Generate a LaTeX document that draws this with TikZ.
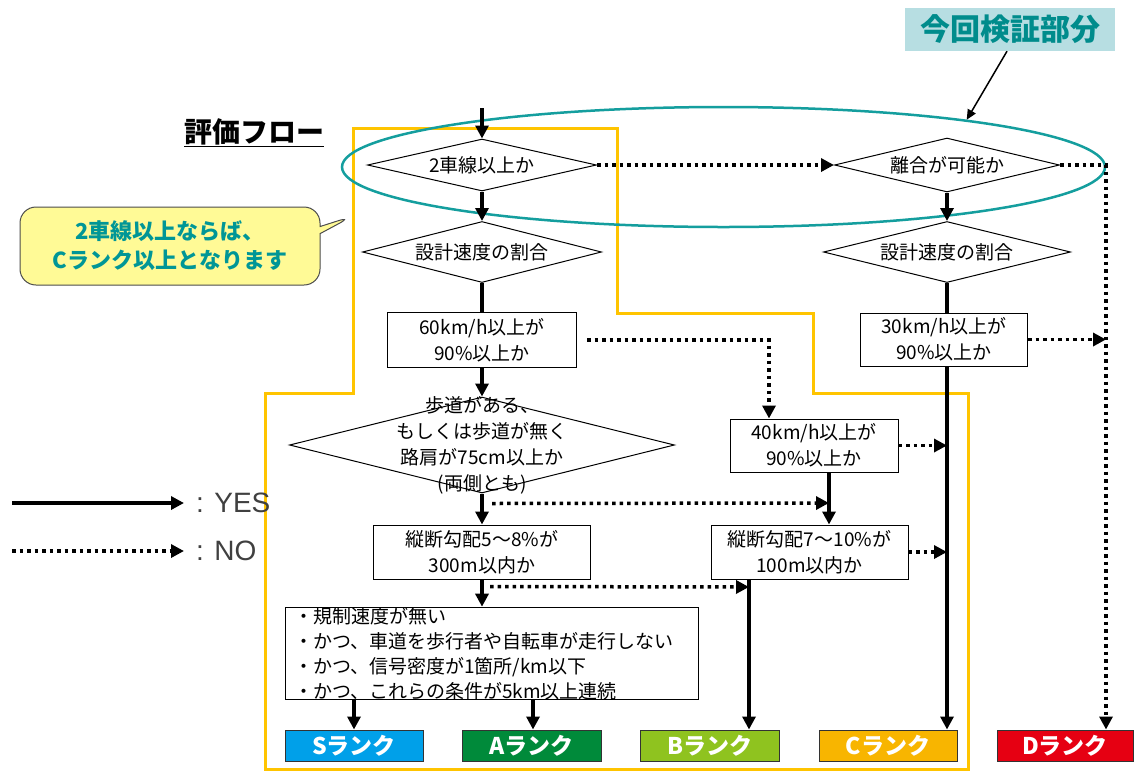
\documentclass[tikz,border=0pt]{standalone}
\usepackage{fontspec}
\setmainfont{Noto Sans CJK JP}
\newfontfamily\latinsans{Liberation Sans}
\usetikzlibrary{arrows.meta,shapes.geometric,shapes.callouts}
\definecolor{frameyellow}{RGB}{255,196,0}
\definecolor{scopeteal}{RGB}{20,158,158}
\definecolor{tagfill}{RGB}{183,222,226}
\definecolor{tagteal}{RGB}{0,140,140}
\definecolor{notefill}{RGB}{255,250,150}
\definecolor{noteteal}{RGB}{0,150,150}
\definecolor{rankS}{RGB}{0,160,233}
\definecolor{rankA}{RGB}{0,138,58}
\definecolor{rankB}{RGB}{143,195,31}
\definecolor{rankC}{RGB}{248,181,0}
\definecolor{rankD}{RGB}{230,0,18}

\begin{document}
\begin{tikzpicture}[x=1pt,y=-1pt,
	every node/.style={font=\fontsize{19}{26}\selectfont},
	yes/.style={line width=3.5pt,-{Triangle[length=13pt,width=13pt]}},
	no/.style={line width=3.5pt,dash pattern=on 3.5pt off 4pt,-{Triangle[length=13pt,width=13pt]}},
	link/.style={line width=3.5pt},
	dia/.style={draw,diamond,line width=1pt,inner sep=0pt},
	box/.style={draw,rectangle,line width=1pt,inner sep=0pt,align=center},
	rank/.style={draw=black!80,line width=1pt,minimum height=31,inner sep=0pt,text=white,font=\fontsize{23}{23}\selectfont\bfseries}]
	\path[use as bounding box,fill=white] (0,0) rectangle (1134,772);
	\draw[frameyellow,line width=3pt] (265,769) -- (265,393) -- (353,393) -- (353,128) -- (617,128) -- (617,313) -- (813,313) -- (813,393) -- (968,393) -- (968,769) -- cycle;
	\node[draw=scopeteal,line width=2.5pt,ellipse,minimum width=763,minimum height=120,inner sep=0pt] (scope) at (723.5,167) {};
	\node[fill=tagfill,text=tagteal,minimum width=210,minimum height=43,inner sep=0pt,font=\fontsize{30}{30}\selectfont\bfseries] (tag) at (1010,29.5) {今回検証部分};
	\draw[line width=1.5pt,-{Triangle[length=10pt,width=9pt]}] ([xshift=-3pt]tag.south) -- (scope.11.5);
	
	\node[font=\fontsize{28}{28}\selectfont\bfseries] (title) at (254,133) {\underline{評価フロー}};
	\node[rectangle callout,rounded corners=16pt,draw=black!70,line width=1pt,fill=notefill,minimum width=300,minimum height=78,callout absolute pointer={(353,216)},text=noteteal,align=center,font=\fontsize{22}{29}\selectfont\bfseries] (note) at (170,246) {2車線以上ならば、\\Cランク以上となります};
	
	\coordinate (entry) at (482,108);
	\node[dia,aspect=4.4,minimum width=229,minimum height=52] (lanes) at (482,165) {2車線以上か};
	\node[dia,aspect=3.9,minimum width=239,minimum height=61] (speed) at (482,252) {設計速度の割合};
	\node[box,minimum width=189,minimum height=55] (r60) at (482,340) {60km/h以上が\\90\%以上か};
	\node[dia,aspect=4,minimum width=385,minimum height=96] (walk) at (482,445) {};
	\node[align=center] (walktext) at (walk) {歩道がある、\\もしくは歩道が無く\\路肩が75cm以上か\\(両側とも)};
	\node[box,minimum width=217,minimum height=54] (r58) at (482,552) {縦断勾配5～8\%が\\300m以内か};
	\node[box,align=left,text width=395,minimum width=413,minimum height=91,font=\fontsize{19}{25}\selectfont] (local) at (491.5,653.5) {・規制速度が無い\\・かつ、車道を歩行者や自転車が走行しない\\・かつ、信号密度が1箇所/km以下\\・かつ、これらの条件が5km以上連続};
	
	\node[dia,aspect=4.2,minimum width=225,minimum height=54] (pass) at (947,165) {離合が可能か};
	\node[dia,aspect=4,minimum width=247,minimum height=61] (speedR) at (947,252) {設計速度の割合};
	\node[box,minimum width=167,minimum height=53] (r30) at (944,339.5) {30km/h以上が\\90\%以上か};
	\node[box,minimum width=168,minimum height=53] (r40) at (814,445.5) {40km/h以上が\\90\%以上か};
	\node[box,minimum width=197,minimum height=54] (r710) at (809.5,552) {縦断勾配7～10\%が\\100m以内か};
	
	\node[rank,fill=rankS,minimum width=138] (srank) at (354,745.5) {Sランク};
	\node[rank,fill=rankA,minimum width=139] (arank) at (531.5,745.5) {Aランク};
	\node[rank,fill=rankB,minimum width=139] (brank) at (709.5,745.5) {Bランク};
	\node[rank,fill=rankC,minimum width=138] (crank) at (888,745.5) {Cランク};
	\node[rank,fill=rankD,minimum width=136] (drank) at (1065,745.5) {Dランク};
	
	\coordinate (bend60) at (769,340);
	\coordinate (join40) at (829,503);
	\coordinate (join58) at (749,587);
	\coordinate (dcorner) at (1106,165);
	
	\draw[yes] (entry) -- (lanes.north);
	\draw[yes] (lanes.south) -- (speed.north);
	\draw[link] (speed.south) -- (r60.north);
	\draw[yes] (r60.south) -- (walk.north);
	\draw[yes] (walk.south) -- (r58.north);
	\draw[yes] (r58.south) -- (r58.south |- local.north);
	\draw[yes] (local.south -| srank.north) -- (srank.north);
	\draw[yes] ([xshift=1.5pt]local.south -| arank.north) -- ([xshift=1.5pt]arank.north);
	
	\draw[no] (lanes.east) -- (pass.west);
	\draw[yes] (pass.south) -- (speedR.north);
	\draw[link] (speedR.south) -- (speedR.south |- r30.north);
	\draw[yes] (r30.south -| speedR.south) -- (crank.north -| speedR.south);
	\draw[no] (pass.east) -- (dcorner) -- (dcorner |- drank.north);
	\draw[no] (r30.east) -- (r30.east -| dcorner);
	
	\draw[no] ([xshift=10pt]r60.east) -- (bend60) -- (bend60 |- r40.north);
	\draw[no] ([xshift=10pt,yshift=-10pt]walk.south) -- (join40);
	\draw[yes] (r40.south -| join40) -- (r710.north -| join40);
	\draw[no] (r40.east) -- (r40.east -| speedR.south);
	\draw[no] (r710.east) -- (r710.east -| speedR.south);
	\draw[no] ([xshift=8pt,yshift=-7pt]r58.south) -- (join58);
	\draw[yes] (r710.south -| join58) -- (brank.north -| join58);
	
	\node[anchor=west,inner sep=0pt,text=black!75,font=\latinsans\fontsize{28}{28}\selectfont] (lyes) at (196,503) {: YES};
	\node[anchor=west,inner sep=0pt,text=black!75,font=\latinsans\fontsize{28}{28}\selectfont] (lno) at (196,551) {: NO};
	\coordinate (legyes) at (12,503);
	\coordinate (legno) at (12,551);
	\draw[yes] (legyes) -- ([xshift=-12pt]lyes.west);
	\draw[no] (legno) -- ([xshift=-12pt]lno.west);
	
\end{tikzpicture}
\end{document}
